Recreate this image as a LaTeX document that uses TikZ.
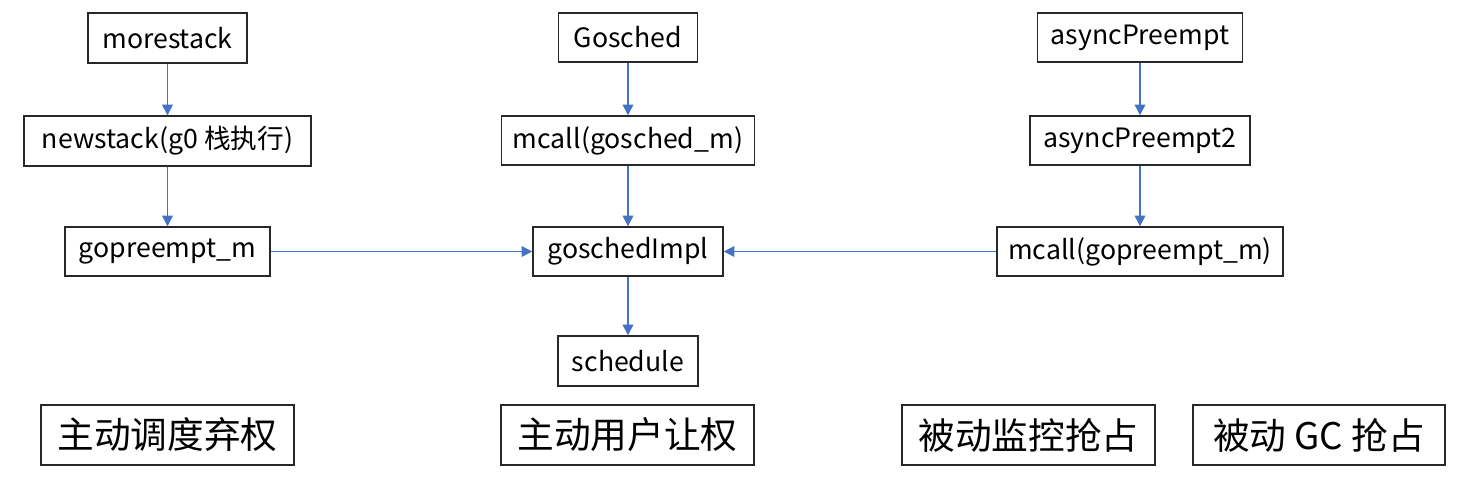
\documentclass[tikz,border=0pt]{standalone}
\usepackage{fontspec}
\setmainfont{Noto Sans CJK SC}
\usetikzlibrary{arrows.meta}
\definecolor{arrowblue}{RGB}{68,114,196}
\definecolor{boxline}{RGB}{40,40,40}
\begin{document}
\begin{tikzpicture}[x=0.75pt,y=-0.75pt,
  fbox/.style={draw=boxline,line width=1.1pt,fill=white,inner sep=0pt,font=\fontsize{20}{24}\selectfont},
  lbox/.style={draw=boxline,line width=1.1pt,fill=white,inner sep=0pt,font=\fontsize{27.5}{32}\selectfont},
  flow/.style={draw=arrowblue,line width=1.1pt,-{Triangle[width=8pt,length=8pt]}}]
\useasboundingbox[fill=white] (0,0) rectangle (1466,490);
% left column
\node[fbox,minimum width=159*0.75pt,minimum height=50*0.75pt] (ms) at (167.5,38) {morestack};
\node[fbox,minimum width=287*0.75pt,minimum height=50*0.75pt] (ns) at (167.5,141) {newstack(g0 栈执行)};
\node[fbox,minimum width=205*0.75pt,minimum height=49*0.75pt] (gp) at (167.5,251.5) {gopreempt\_m};
% middle column
\node[fbox,minimum width=139*0.75pt,minimum height=49*0.75pt] (gs) at (628,37.5) {Gosched};
\node[fbox,minimum width=253*0.75pt,minimum height=49*0.75pt] (mg) at (628,140.5) {mcall(gosched\_m)};
\node[fbox,minimum width=190*0.75pt,minimum height=49*0.75pt] (gi) at (628,251.5) {goschedImpl};
\node[fbox,minimum width=140*0.75pt,minimum height=50*0.75pt] (sc) at (628,361) {schedule};
% right column
\node[fbox,minimum width=205*0.75pt,minimum height=49*0.75pt] (ap) at (1140,37.5) {asyncPreempt};
\node[fbox,minimum width=220*0.75pt,minimum height=49*0.75pt] (ap2) at (1140,140.5) {asyncPreempt2};
\node[fbox,minimum width=286*0.75pt,minimum height=49*0.75pt] (mp) at (1140,251.5) {mcall(gopreempt\_m)};
% bottom labels
\node[lbox,minimum width=253*0.75pt,minimum height=60*0.75pt] (b1) at (167.5,435) {主动调度弃权};
\node[lbox,minimum width=253*0.75pt,minimum height=60*0.75pt] (b2) at (627.5,435) {主动用户让权};
\node[lbox,minimum width=253*0.75pt,minimum height=60*0.75pt] (b3) at (1028.5,435) {被动监控抢占};
\node[lbox,minimum width=252*0.75pt,minimum height=60*0.75pt] (b4) at (1319,435) {被动 GC 抢占};
% connectors
\draw[flow] (ms) -- (ns);
\draw[flow] (ns) -- (gp);
\draw[flow] (gs) -- (mg);
\draw[flow] (mg) -- (gi);
\draw[flow] (gi) -- (sc);
\draw[flow] (ap) -- (ap2);
\draw[flow] (ap2) -- (mp);
\draw[flow] (gp) -- (gi);
\draw[flow] (mp) -- (gi);
\end{tikzpicture}
\end{document}
